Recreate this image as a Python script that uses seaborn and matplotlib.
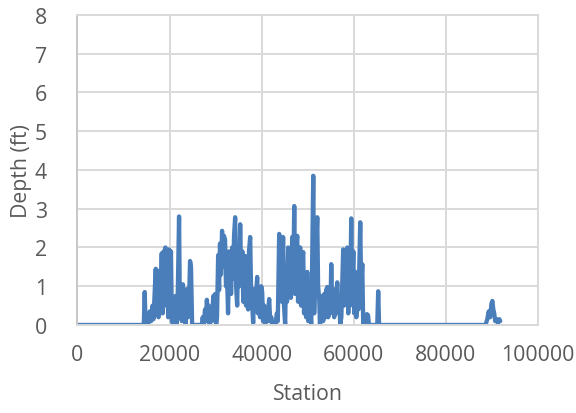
import matplotlib
matplotlib.use("Agg")
import matplotlib.pyplot as plt
import pandas as pd
import seaborn as sns

# Water depth profile along the alignment (station in ft, depth in ft)
stations = [
    0, 14400,
    14600, 14800,
    15100, 15400, 15700, 16000, 16300, 16500,
    16800, 17000, 17200, 17400, 17600, 17800, 18000,
    18300, 18500, 18700, 18900, 19100, 19300, 19500, 19700, 19900, 20100, 20300, 20500,
    20700, 20900, 21100, 21300, 21500, 21750, 22060, 22250, 22450, 22650, 22900, 23100,
    23300, 23500, 23800, 24000, 24200, 24450, 24650, 24900, 27000,
    27200, 27400, 27700, 27900, 28100, 28300, 28500, 28700, 29000, 29200, 29500, 29700,
    29900, 30100,
    30300, 30550, 30750, 30950, 31150, 31400, 31600, 31800, 32050, 32250, 32500, 32700,
    32900, 33150, 33350, 33600, 33800, 34000, 34240, 34450, 34680, 34900, 35100, 35330,
    35550, 35800, 36000, 36200, 36410, 36600, 36850, 37050, 37250, 37500, 37700, 37950,
    38150, 38400, 38600, 39020, 39200, 39450, 39650, 39900, 40110, 40300, 40550, 40750,
    41000, 41200, 41630, 41850, 42100, 42300,
    43000, 43300, 43500, 43800, 44000, 44200, 44400, 44650, 44850, 45100, 45300, 45500,
    45750, 45950, 46150, 46350, 46630, 46850, 47070, 47250, 47450, 47720, 47900, 48100,
    48370, 48550, 48750, 49020, 49200, 49400, 49650, 49890, 50100, 50300, 50540, 50750,
    50950, 51200, 51400, 51600, 52070, 52250, 52500, 52650,
    52900, 53150, 53350, 53600, 53800, 54000, 54240, 54450, 54700, 54900, 55110, 55300,
    55540, 55750, 55950, 56150, 56410, 56600, 56850, 57050,
    57300, 57700, 57900, 58200, 58400, 58600, 58800, 59000, 59200, 59450, 59650, 59900,
    60100, 60350, 60550, 60800, 61000, 61400, 61600, 61850, 62050,
    62600, 62850, 63100, 63300, 65100, 65300, 65500,
    88600, 89000, 89300, 89600, 89900, 90100, 90300, 90500, 90700, 91000, 91300, 91600,
    91800,
]
depths = [
    0.0, 0.0,
    0.85, 0.0,
    0.2, 0.05, 0.35, 0.1, 0.5, 0.15,
    0.9, 1.45, 0.3, 1.1, 0.2, 1.4, 0.4,
    1.85, 0.3, 1.9, 1.0, 2.0, 0.5, 1.9, 0.2, 1.95, 0.8, 1.9, 0.1,
    0.05, 0.7, 0.1, 0.75, 0.0, 0.6, 2.8, 0.2, 0.9, 0.1, 1.05, 0.3,
    0.85, 0.0, 0.93, 0.2, 0.5, 1.65, 1.5, 0.0, 0.0,
    0.2, 0.0, 0.4, 0.1, 0.65, 0.2, 0.5, 0.0, 0.4, 0.1, 0.75, 0.2,
    0.8, 0.0,
    0.2, 1.8, 0.9, 2.1, 1.3, 2.43, 1.5, 2.3, 2.2, 1.0, 1.2, 0.3,
    1.9, 1.8, 0.8, 2.0, 1.2, 2.3, 2.78, 1.0, 0.5, 1.9, 1.0, 2.6,
    1.2, 1.9, 0.6, 1.5, 1.78, 0.5, 1.6, 0.4, 1.9, 2.27, 0.9, 0.5,
    0.05, 0.93, 0.4, 1.24, 0.3, 0.9, 0.2, 1.0, 0.85, 0.1, 0.5, 0.0,
    0.4, 0.1, 0.67, 0.1, 0.2, 0.0,
    0.0, 0.3, 0.1, 2.35, 1.0, 2.1, 0.6, 2.27, 0.5, 0.0, 1.5, 0.6,
    2.0, 0.8, 1.9, 0.7, 2.27, 1.0, 3.07, 0.8, 1.9, 2.3, 0.6, 1.7,
    2.0, 0.5, 1.6, 1.88, 0.3, 1.0, 0.2, 1.37, 0.1, 0.8, 0.6, 0.0,
    1.5, 3.85, 0.3, 1.2, 2.78, 1.0, 0.67, 0.0,
    0.3, 0.75, 0.1, 0.8, 0.2, 0.9, 0.98, 0.2, 0.6, 0.3, 1.57, 0.5,
    0.93, 0.2, 0.8, 0.3, 1.1, 0.4, 0.7, 0.0,
    0.2, 1.95, 0.5, 1.9, 0.6, 2.0, 0.3, 1.5, 0.5, 2.75, 0.8, 1.9,
    0.3, 1.37, 0.2, 1.2, 0.4, 2.65, 1.0, 1.57, 0.0,
    0.0, 0.28, 0.25, 0.0, 0.0, 0.87, 0.0,
    0.0, 0.15, 0.35, 0.2, 0.55, 0.62, 0.4, 0.3, 0.1, 0.15, 0.05, 0.15,
    0.1,
]

x_ticks = [0, 20000, 40000, 60000, 80000, 100000]
y_ticks = [0, 1, 2, 3, 4, 5, 6, 7, 8]

sns.set_theme(style="white")
plt.rcParams["font.family"] = ["Open Sans", "DejaVu Sans"]

text_color = "#595959"
grid_color = "#d9d9d9"
font_size = 15.3

fig = plt.figure(figsize=(5.76, 4.14), dpi=100)
ax = fig.add_axes([0.1345, 0.2126, 0.7995, 0.7488])

df = pd.DataFrame({"Station": stations, "Depth (ft)": depths})
sns.lineplot(data=df, x="Station", y="Depth (ft)", ax=ax, color="#4A7EBB",
             linewidth=3.1, estimator=None, sort=False)
for line in ax.get_lines():
    line.set_solid_joinstyle("round")
    line.set_solid_capstyle("round")

ax.set_xlim(0, 100000)
ax.set_ylim(0, 8)
ax.set_xticks(x_ticks)
ax.set_yticks(y_ticks)
ax.set_xticklabels([str(v) for v in x_ticks])
ax.set_yticklabels([str(v) for v in y_ticks])

ax.grid(True, color=grid_color, linewidth=1.4)
ax.set_axisbelow(True)
for side in ["top", "right", "left", "bottom"]:
    ax.spines[side].set_color(grid_color)
    ax.spines[side].set_linewidth(1.4)
ax.spines["left"].set_color("#c8c8c8")

ax.tick_params(axis="both", length=0, labelsize=font_size, colors=text_color)
ax.tick_params(axis="y", pad=22)
ax.tick_params(axis="x", pad=14)

ax.set_xlabel("Station", fontsize=font_size, color=text_color, labelpad=13)
ax.set_ylabel("Depth (ft)", fontsize=font_size, color=text_color, labelpad=2)

fig.savefig("out.png", dpi=100, facecolor="white")
